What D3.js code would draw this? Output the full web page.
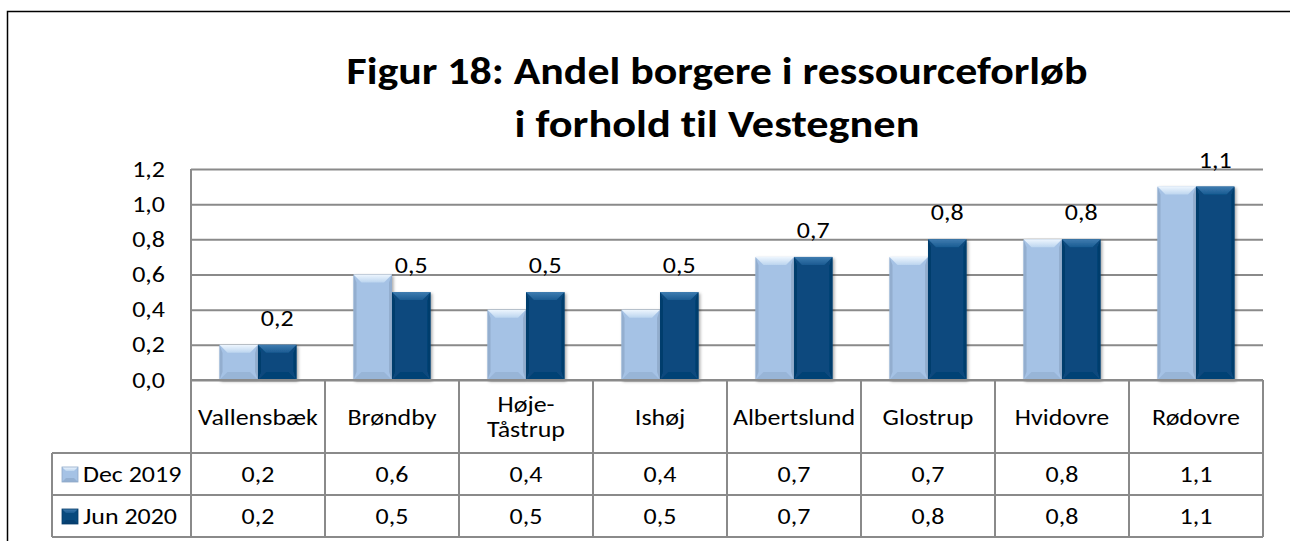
<!DOCTYPE html>
<html>
<head>
<meta charset="utf-8">
<script src="https://cdn.jsdelivr.net/npm/d3@7"></script>
<style>
  html, body { margin: 0; padding: 0; background: #fff; }
  svg { display: block; }
  text { font-family: Carlito, Calibri, Lato, "Open Sans", sans-serif; fill: #000; font-variant-ligatures: none; font-feature-settings: "liga" 0, "clig" 0; }
</style>
</head>
<body>
<svg id="chart" width="1290" height="541"></svg>
<script>
// ---- data ----
const titleLines = ["Figur 18: Andel borgere i ressourceforløb", "i forhold til Vestegnen"];
const categories = ["Vallensbæk", "Brøndby", "Høje-Tåstrup", "Ishøj", "Albertslund", "Glostrup", "Hvidovre", "Rødovre"];
const categoryLabels = [["Vallensbæk"], ["Brøndby"], ["Høje-", "Tåstrup"], ["Ishøj"], ["Albertslund"], ["Glostrup"], ["Hvidovre"], ["Rødovre"]];
const seriesNames = ["Dec 2019", "Jun 2020"];
const dec2019 = [0.2, 0.6, 0.4, 0.4, 0.7, 0.7, 0.8, 1.1];
const jun2020 = [0.2, 0.5, 0.5, 0.5, 0.7, 0.8, 0.8, 1.1];
const yTicks = [0.0, 0.2, 0.4, 0.6, 0.8, 1.0, 1.2];

const seriesValues = [dec2019, jun2020];
const seriesStyle = [
  { main: "#a5c2e5", top: "#eef6fe", topDark: "#bcd5ef", side: "#8ea9c9", bottom: "#93afd1" },
  { main: "#084a7e", top: "#3f7cb0", topDark: "#1a5b92", side: "#053b68", bottom: "#063f70" }
];

const svg = d3.select("#chart");
const fmt = v => d3.format(".1f")(v).replace(".", ",");

// layout
const plotL = 191, plotR = 1263, plotT = 169, plotB = 380;
const tabLeft = 52, rowH = [380, 453, 495, 537];
const gridColor = "#8a8a8a";
const FS = 22, SX = 1.18, FW = 300;

function stext(parent, x, y, str, anchor) {
  return parent.append("text")
    .attr("transform", `translate(${x},${y}) scale(${SX},1)`)
    .attr("text-anchor", anchor || "middle").attr("font-size", FS).attr("font-weight", FW).text(str);
}

// outer frame
svg.append("rect").attr("x", 7.5).attr("y", 11.5).attr("width", 1300).attr("height", 560)
  .attr("fill", "none").attr("stroke", "#000").attr("stroke-width", 1.5);

// title
const tg = svg.append("g");
const titleCX = 717;
const titleTargets = [741, 405];
const titleY = [84, 137];
titleLines.forEach((t, i) => {
  tg.append("text").attr("x", titleCX).attr("y", titleY[i])
    .attr("text-anchor", "middle").attr("font-size", 39).attr("font-weight", "bold")
    .attr("textLength", titleTargets[i]).attr("lengthAdjust", "spacingAndGlyphs").text(t);
});

// scales
const x = d3.scaleBand().domain(categories).range([plotL, plotR]).paddingInner(0).paddingOuter(0);
const xs = d3.scaleBand().domain(seriesNames).range([0, x.bandwidth()]).paddingInner(0).paddingOuter(0.74);
const y = d3.scaleLinear().domain([0, 1.2]).range([plotB, plotT]);

// defs
const defs = svg.append("defs");
const f = defs.append("filter").attr("id", "shadow").attr("x", "-20%").attr("y", "-20%").attr("width", "150%").attr("height", "150%");
f.append("feDropShadow").attr("dx", 1.5).attr("dy", 1.5).attr("stdDeviation", 1.5).attr("flood-color", "#000").attr("flood-opacity", 0.35);
seriesStyle.forEach((s, i) => {
  const g = defs.append("linearGradient").attr("id", "topg" + i).attr("x1", 0).attr("y1", 0).attr("x2", 0).attr("y2", 1);
  g.append("stop").attr("offset", "0%").attr("stop-color", s.top);
  g.append("stop").attr("offset", "100%").attr("stop-color", s.topDark);
});

// gridlines + tick labels via axis
const pad = 26;
const yAxis = d3.axisLeft(y).tickValues(yTicks).tickFormat(fmt).tickSize(-(plotR - plotL)).tickPadding(pad);
const ag = svg.append("g").attr("transform", `translate(${plotL},0)`).call(yAxis);
ag.select(".domain").remove();
ag.selectAll(".tick line").attr("stroke", gridColor).attr("stroke-width", 2);
ag.selectAll(".tick text").attr("font-size", FS).attr("font-weight", FW).attr("fill", "#000")
  .attr("x", -pad / SX).attr("transform", `scale(${SX},1)`)
  .style("font-family", "Carlito, Calibri, Lato, sans-serif");
// left axis line
svg.append("line").attr("x1", plotL).attr("x2", plotL).attr("y1", plotT).attr("y2", rowH[3])
  .attr("stroke", gridColor).attr("stroke-width", 2);

// bars
const bev = 8;
function drawBar(g, bx, by, bw, bh, s, i) {
  const bg = g.append("g").attr("filter", "url(#shadow)");
  bg.append("rect").attr("x", bx).attr("y", by).attr("width", bw).attr("height", bh).attr("fill", s.main);
  const b = Math.min(bev, bh / 2, bw / 2);
  bg.append("polygon").attr("points", [[bx, by], [bx + 3, by + b], [bx + 3, by + bh - b], [bx, by + bh]].join(" ")).attr("fill", s.side).attr("opacity", 0.8);
  bg.append("polygon").attr("points", [[bx + bw, by], [bx + bw - 3, by + b], [bx + bw - 3, by + bh - b], [bx + bw, by + bh]].join(" ")).attr("fill", s.side).attr("opacity", 0.8);
  bg.append("polygon").attr("points", [[bx, by + bh], [bx + b, by + bh - b], [bx + bw - b, by + bh - b], [bx + bw, by + bh]].join(" ")).attr("fill", s.bottom).attr("opacity", 0.7);
  bg.append("polygon").attr("points", [[bx, by], [bx + bw, by], [bx + bw - b, by + b], [bx + b, by + b]].join(" ")).attr("fill", `url(#topg${i})`);
}
const barsG = svg.append("g");
seriesNames.forEach((sn, si) => {
  categories.forEach((c, ci) => {
    const v = seriesValues[si][ci];
    drawBar(barsG, x(c) + xs(sn), y(v), xs.bandwidth(), y(0) - y(v), seriesStyle[si], si);
  });
});

// data labels (Jun 2020 only)
const lblG = svg.append("g");
categories.forEach((c, i) => {
  stext(lblG, x(c) + xs(seriesNames[1]) + xs.bandwidth() / 2, y(jun2020[i]) - 19, fmt(jun2020[i]));
});

// table
const tab = svg.append("g");
const hl = (x1, x2, yy) => tab.append("line").attr("x1", x1).attr("x2", x2).attr("y1", yy).attr("y2", yy).attr("stroke", gridColor).attr("stroke-width", 2);
const vl = (xx, y1, y2) => tab.append("line").attr("x1", xx).attr("x2", xx).attr("y1", y1).attr("y2", y2).attr("stroke", gridColor).attr("stroke-width", 2);
hl(plotL, plotR, rowH[0]);
hl(tabLeft, plotR, rowH[1]);
hl(tabLeft, plotR, rowH[2]);
hl(tabLeft, plotR, rowH[3]);
vl(tabLeft, rowH[1], rowH[3]);
categories.forEach(c => vl(x(c) + x.bandwidth(), rowH[0], rowH[3]));

// category header text
categories.forEach((c, ci) => {
  const lines = categoryLabels[ci];
  const cy = (rowH[0] + rowH[1]) / 2;
  lines.forEach((l, li) => {
    stext(tab, x(c) + x.bandwidth() / 2, cy + 8 + (li - (lines.length - 1) / 2) * 25, l);
  });
});

// value rows + legend
seriesNames.forEach((sn, si) => {
  const cy = (rowH[si + 1] + rowH[si + 2]) / 2;
  categories.forEach((c, ci) => {
    stext(tab, x(c) + x.bandwidth() / 2, cy + 8, fmt(seriesValues[si][ci]));
  });
  const kx = 62, kw = 16, kh = 15, ky = cy + 8 - kh;
  const s = seriesStyle[si];
  const kg = tab.append("g");
  kg.append("rect").attr("x", kx).attr("y", ky).attr("width", kw).attr("height", kh).attr("fill", s.main);
  kg.append("polygon").attr("points", [[kx, ky], [kx + kw, ky], [kx + kw - 4, ky + 4], [kx + 4, ky + 4]].join(" ")).attr("fill", `url(#topg${si})`);
  kg.append("polygon").attr("points", [[kx, ky + kh], [kx + 4, ky + kh - 4], [kx + kw - 4, ky + kh - 4], [kx + kw, ky + kh]].join(" ")).attr("fill", s.bottom);
  kg.append("rect").attr("x", kx).attr("y", ky).attr("width", kw).attr("height", kh).attr("fill", "none").attr("stroke", s.side).attr("stroke-width", 0.8);
  stext(tab, 83, cy + 8, sn, "start");
});
</script>
</body>
</html>
